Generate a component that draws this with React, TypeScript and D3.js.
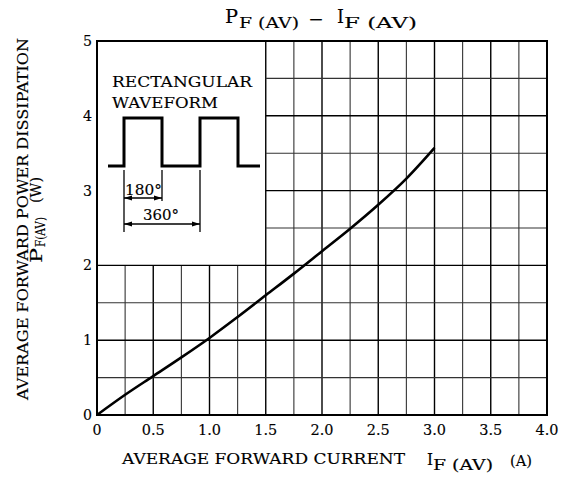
import React from "react";
import * as d3 from "d3";

const current = [0, 0.25, 0.5, 0.75, 1.0, 1.25, 1.5, 1.75, 2.0, 2.25, 2.5, 2.75, 3.0];
const power = [0, 0.27, 0.52, 0.77, 1.03, 1.31, 1.6, 1.89, 2.19, 2.49, 2.81, 3.16, 3.57];
const xTicks = [0, 0.5, 1.0, 1.5, 2.0, 2.5, 3.0, 3.5, 4.0];
const xTickLabels = ["0", "0.5", "1.0", "1.5", "2.0", "2.5", "3.0", "3.5", "4.0"];
const yTicks = [0, 1, 2, 3, 4, 5];
const xGrid = d3.range(0, 4.0001, 0.25);
const yGrid = d3.range(0, 5.0001, 0.5);
// inset region (x: 0..1.5 A, y: 2..5 W) has no grid
const insetX = 1.5;
const insetY = 2;

const FONT = "'DejaVu Serif', serif";

type TP = { x: number; y: number; len?: number; size: number; anchor?: string; children: React.ReactNode; transform?: string };
const Txt = ({ x, y, len, size, anchor, children, transform }: TP) => (
  <text x={x} y={y} fontSize={size} textAnchor={anchor || "start"} transform={transform}
    textLength={len} lengthAdjust={len ? "spacingAndGlyphs" : undefined}
    fill="#000" stroke="#000" strokeWidth={0.15}>
    {children}
  </text>
);

export default function App() {
  const W = 566, H = 483;
  const L = 97, R = 547, T = 41, B = 415;
  const x = d3.scaleLinear().domain([0, 4]).range([L, R]);
  const y = d3.scaleLinear().domain([0, 5]).range([B, T]);
  const line = d3.line<number>().x((d, i) => x(current[i])).y((d) => y(d)).curve(d3.curveCatmullRom);

  const gridLines: JSX.Element[] = [];
  xGrid.forEach((v, i) => {
    if (v === 0 || v === 4) return;
    const major = Math.abs(v * 2 - Math.round(v * 2)) < 1e-6;
    const y1 = v < insetX - 1e-6 ? y(insetY) : y(5);
    gridLines.push(
      <line key={"xg" + i} x1={x(v)} x2={x(v)} y1={y(0)} y2={y1}
        stroke={major ? "#000" : "#333"} strokeWidth={major ? 1.4 : 1.1} />
    );
  });
  yGrid.forEach((v, i) => {
    if (v === 0 || v === 5) return;
    const major = Math.abs(v - Math.round(v)) < 1e-6;
    const x1 = v > insetY + 1e-6 ? x(insetX) : x(0);
    gridLines.push(
      <line key={"yg" + i} x1={x1} x2={x(4)} y1={y(v)} y2={y(v)}
        stroke={major ? "#000" : "#333"} strokeWidth={major ? 1.4 : 1.1} />
    );
  });

  // inset waveform (pixel layout of the decorative inset)
  const wLow = 166, wHigh = 118;
  const wx = [108, 124, 162, 200, 238, 260];
  const wave = `M${wx[0]},${wLow} H${wx[1]} V${wHigh} H${wx[2]} V${wLow} H${wx[3]} V${wHigh} H${wx[4]} V${wLow} H${wx[5]}`;

  const arrow = (x1: number, x2: number, yy: number, k: string) => (
    <g key={k}>
      <line x1={x1} x2={x2} y1={yy} y2={yy} stroke="#000" strokeWidth={1.4} />
      <path d={`M${x1},${yy} l8,-2.5 v5 z`} fill="#000" />
      <path d={`M${x2},${yy} l-8,-2.5 v5 z`} fill="#000" />
    </g>
  );

  return (
    <svg width={W} height={H} style={{ position: "absolute", left: 0, top: 0, background: "#fff" }}
      fontFamily={FONT}>
      <rect x={0} y={0} width={W} height={H} fill="#fff" />
      {gridLines}
      <rect x={L} y={T} width={R - L} height={B - T} fill="none" stroke="#000" strokeWidth={2} />
      <path d={line(power) || ""} fill="none" stroke="#000" strokeWidth={2.6} />

      {/* tick labels */}
      {xTicks.map((v, i) => (
        <Txt key={"xt" + i} x={x(v)} y={435} anchor="middle" size={15}
          len={xTickLabels[i].length > 1 ? 23 : 9}>{xTickLabels[i]}</Txt>
      ))}
      {yTicks.map((v) => (
        <Txt key={"yt" + v} x={92} y={y(v) + 5} anchor="end" size={15} len={9}>{v}</Txt>
      ))}

      {/* title: PF(AV) – IF(AV) */}
      <Txt x={225} y={23} size={19} len={13}>P</Txt>
      <Txt x={239} y={28} size={15} len={60}>F (AV)</Txt>
      <Txt x={309} y={24} size={17} len={14}>–</Txt>
      <Txt x={337} y={23} size={19} len={7}>I</Txt>
      <Txt x={344} y={28} size={15} len={73}>F (AV)</Txt>

      {/* x axis label */}
      <Txt x={122} y={464} size={14.5} len={283}>AVERAGE FORWARD CURRENT</Txt>
      <Txt x={427} y={465} size={16} len={6}>I</Txt>
      <Txt x={433} y={470} size={14} len={60}>F (AV)</Txt>
      <Txt x={510} y={466} size={15.5} len={22}>(A)</Txt>

      {/* y axis label */}
      <Txt transform="translate(28,219) rotate(-90)" x={0} y={0} anchor="middle" size={14.5} len={362}>
        AVERAGE FORWARD POWER DISSIPATION
      </Txt>
      <Txt transform="translate(42,263) rotate(-90)" x={0} y={0} size={16} len={15}>P</Txt>
      <Txt transform="translate(45,247) rotate(-90)" x={0} y={0} size={13} len={30}>F(AV)</Txt>
      <Txt transform="translate(41,203) rotate(-90)" x={0} y={0} size={14.5} len={26}>(W)</Txt>

      {/* inset */}
      <Txt x={112} y={87} size={15} len={140}>RECTANGULAR</Txt>
      <Txt x={112} y={108} size={15} len={106}>WAVEFORM</Txt>
      <path d={wave} fill="none" stroke="#000" strokeWidth={3} />
      <line x1={124} x2={124} y1={170} y2={232} stroke="#000" strokeWidth={1.3} />
      <line x1={162} x2={162} y1={170} y2={201} stroke="#000" strokeWidth={1.3} />
      <line x1={200} x2={200} y1={170} y2={232} stroke="#000" strokeWidth={1.3} />
      {arrow(124, 162, 198, "a1")}
      {arrow(124, 200, 224, "a2")}
      <Txt x={125} y={195} size={15} len={37}>180°</Txt>
      <Txt x={143} y={220} size={15} len={36}>360°</Txt>
    </svg>
  );
}
